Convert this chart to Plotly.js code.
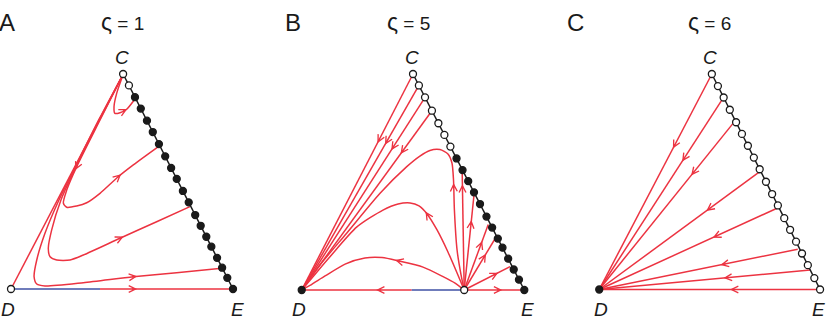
<!DOCTYPE html>
<html><head><meta charset="utf-8">
<script src="https://cdn.plot.ly/plotly-3.0.1.min.js"></script>
<style>html,body{margin:0;padding:0;background:#fff}#plot{width:830px;height:322px}</style>
</head><body><div id="plot"></div>
<script>
// ================= DATA (simplex coords: D=(0,0), E=(1,0), C=(apex,1)) =================
const panelLetters = ['A', 'B', 'C'];
const zetaSymbol = 'ς';
const zetaValues = [1, 5, 6];
const vertexNames  = ['C', 'D', 'E'];
const apexX = [0.505, 0.5, 0.51];

// equilibria on the C–E edge (fraction of the way from C to E) and their stability
const dotsA_t = [0, .053, .108, .161, .217, .270, .326, .383, .437, .488, .544, .597, .656, .706, .757, .803, .855, .901, .948, 1];
const dotsA_open = [1,1,0,0,0,0,0,0,0,0,0,0,0,0,0,0,0,0,0,0];
const dotsB_t = [0, .053, .108, .17, .228, .282, .336, .391, .445, .496, .548, .602, .66, .711, .762, .804, .855, .905, .952, 1];
const dotsB_open = [1,1,1,1,1,1,1,0,0,0,0,0,0,0,0,0,0,0,0,0];
const dotsC_t = [0, .056, .109, .166, .224, .278, .333, .388, .442, .5, .557, .61, .669, .723, .778, .833, .887, .947, 1];
const dotsC_open = [1,1,1,1,1,1,1,1,1,1,1,1,1,1,1,1,1,1,1];

// panel A trajectories (in flow direction)
const A_loop = [[0.506,1],[0.476,0.910],[0.464,0.848],[0.468,0.817],[0.491,0.820],[0.521,0.836],[0.556,0.880]];
const A_t2 = [[0.506,1],[0.401,0.786],[0.296,0.569],[0.251,0.460],[0.236,0.399],[0.251,0.380],[0.296,0.386],[0.341,0.401],[0.401,0.445],[0.483,0.522],[0.551,0.577],[0.664,0.662]];
const A_t3 = [[0.506,1],[0.400,0.789],[0.293,0.569],[0.225,0.414],[0.183,0.274],[0.168,0.189],[0.176,0.150],[0.206,0.135],[0.266,0.135],[0.326,0.158],[0.491,0.236],[0.656,0.313],[0.806,0.383]];
const A_t4 = [[0.506,1],[0.398,0.792],[0.290,0.569],[0.216,0.414],[0.153,0.259],[0.116,0.135],[0.104,0.057],[0.116,0.023],[0.153,0.014],[0.326,0.029],[0.551,0.057],[0.746,0.076],[0.949,0.096]];
const A_edgeCD = [[0.505,1],[0,0]];
const A_base = [[0.401,0],[1,0]];
const A_blue = [[0,0],[0.401,0]];
const A_arrows = [['loop',0.506,0.833],['t2',0.296,0.569],['t2',0.483,0.522],['t3',0.491,0.236],['t4',0.551,0.057],['base',0.55,0]];

// panel B trajectories
const B_O = [0.73, 0];
const B_l0 = [[0.5,1],[0,0]];
const B_l1 = [[0.5265,0.947],[0,0]];
const B_l2 = [[0.554,0.892],[0,0]];
const B_l3 = [[0.585,0.83],[0,0]];
const B_arch1 = [[0.730,0],[0.716,0.069],[0.698,0.185],[0.686,0.370],[0.682,0.509],[0.675,0.588],[0.657,0.630],[0.621,0.650],[0.576,0.646],[0.531,0.620],[0.472,0.571],[0.352,0.448],[0.202,0.263],[0.082,0.116],[0,0]];
const B_arch2 = [[0.730,0],[0.698,0.079],[0.657,0.176],[0.608,0.278],[0.563,0.352],[0.527,0.389],[0.487,0.403],[0.433,0.398],[0.365,0.370],[0.248,0.292],[0.127,0.154],[0.046,0.056],[0,0]];
const B_arch3 = [[0.730,0],[0.689,0.032],[0.635,0.062],[0.545,0.106],[0.437,0.134],[0.361,0.150],[0.284,0.148],[0.195,0.120],[0.105,0.065],[0.037,0.021],[0,0]];
const B_v  = [[0.730,0],[0.721,0.545]];
const B_f1 = [[0.730,0],[0.774,0.44]];
const B_f2 = [[0.730,0],[0.838,0.303]];
const B_f3 = [[0.730,0],[0.876,0.25]];
const B_f4 = [[0.730,0],[0.936,0.108]];
const B_baseL = [[0.494,0],[0,0]];
const B_baseR = [[0.730,0],[1,0]];
const B_blue  = [[0.494,0],[0.730,0]];
const B_arrows = [['l0',0.352,0.694],['l1',0.385,0.687],['l2',0.411,0.663],['l3',0.449,0.648],
  ['arch1',0.680,0.477],['arch2',0.561,0.345],['arch3',0.437,0.134],['v',0.713,0.472],
  ['f1',0.761,0.306],['f2',0.797,0.213],['f3',0.823,0.150],['f4',0.868,0.069],
  ['baseL',0.352,0],['baseR',0.883,0]];

// panel C trajectories
const C_l0 = [[0.51,1],[0,0]];
const C_l1 = [[0.558,0.883],[0,0]];
const C_l2 = [[0.606,0.771],[0,0]];
const C_l3 = [[0.727,0.547],[0,0]];
const C_l4 = [[0.805,0.377],[0,0]];
const C_l5 = [[0.899,0.187],[0,0]];
const C_l6 = [[0.955,0.090],[0,0]];
const C_l7 = [[1,0],[0,0]];
const C_arrows = [['l0',0.340,0.671],['l1',0.385,0.609],['l2',0.423,0.547],['l3',0.498,0.377],
  ['l4',0.528,0.253],['l5',0.565,0.124],['l6',0.580,0.063],['l7',0.610,0]];

// ================= STYLE / GEOMETRY =================
const W = 830, H = 322;
const RED = '#ec3341', BLUE = '#3f51a5', INK = '#1a1a1a';
const FONT = 'Liberation Sans, Arial, sans-serif';
const geom = [
  {x0: 11,    x1: 233,   yb: 289,   yt: 74},
  {x0: 301.7, x1: 524.3, yb: 290,   yt: 74},
  {x0: 599.3, x1: 821.7, yb: 289.5, yt: 74}
];
const PAD = 0.045;
const letterPx = [[6.5,23],[293.3,23],[575.5,23]];
const titlePx  = [[122,21.5],[408.5,21.5],[709.8,21.5]];
const vertexPx = [
  [[121.7,57],[8.3,309],[237.5,309]],
  [[411.7,57],[299,309],[527.5,309]],
  [[710,57],[600.8,309],[818.3,309]]
];

const traces = [];
const annotations = [];
const layout = {
  width: W, height: H, margin: {l:0, r:0, t:0, b:0},
  paper_bgcolor: '#fff', plot_bgcolor: 'rgba(0,0,0,0)',
  showlegend: false, annotations: annotations
};

geom.forEach((g, i) => {
  const s = i === 0 ? '' : String(i + 1);
  const w = g.x1 - g.x0, h = g.yb - g.yt;
  layout['xaxis' + s] = {domain: [(g.x0 - PAD*w)/W, (g.x1 + PAD*w)/W], range: [-PAD, 1 + PAD],
    visible: false, fixedrange: true, anchor: 'y' + s};
  layout['yaxis' + s] = {domain: [1 - (g.yb + PAD*h)/H, 1 - (g.yt - PAD*h)/H], range: [-PAD, 1 + PAD],
    visible: false, fixedrange: true, anchor: 'x' + s};
});

function ax(i) { return i === 0 ? ['x','y'] : ['x' + (i+1), 'y' + (i+1)]; }

function addLine(i, pts, color, width) {
  const [xa, ya] = ax(i);
  traces.push({type:'scatter', mode:'lines', x: pts.map(p => p[0]), y: pts.map(p => p[1]),
    xaxis: xa, yaxis: ya, hoverinfo: 'skip', cliponaxis: false,
    line: {color: color, width: width || 1.5, shape: 'spline', smoothing: 0.7}});
}

function addDots(i, ts, open) {
  const [xa, ya] = ax(i);
  const a = apexX[i];
  const px = ts.map(t => a + (1 - a) * t), py = ts.map(t => 1 - t);
  traces.push({type:'scatter', mode:'lines', x: [a, 1], y: [1, 0], xaxis: xa, yaxis: ya,
    hoverinfo:'skip', line: {color: INK, width: 1.5}});
  traces.push({type:'scatter', mode:'markers', x: px, y: py, xaxis: xa, yaxis: ya,
    hoverinfo:'skip', cliponaxis: false,
    marker: {size: 7, color: open.map(o => o ? '#ffffff' : INK), line: {color: INK, width: 1.3}}});
}

function addPoint(i, x, y, open) {
  const [xa, ya] = ax(i);
  traces.push({type:'scatter', mode:'markers', x: [x], y: [y], xaxis: xa, yaxis: ya,
    hoverinfo:'skip', cliponaxis: false,
    marker: {size: 7, color: open ? '#ffffff' : INK, line: {color: INK, width: 1.3}}});
}

function addArrow(i, pts, x, y) {
  const [xa, ya] = ax(i);
  let best = null;
  for (let k = 0; k < pts.length - 1; k++) {
    const a = pts[k], b = pts[k+1];
    const dx = b[0]-a[0], dy = b[1]-a[1], L2 = dx*dx + dy*dy;
    let t = L2 ? ((x-a[0])*dx + (y-a[1])*dy) / L2 : 0;
    t = Math.max(0, Math.min(1, t));
    const qx = a[0] + t*dx, qy = a[1] + t*dy;
    const d = (qx-x)*(qx-x) + (qy-y)*(qy-y);
    if (!best || d < best.d) { const L = Math.sqrt(L2); best = {d, qx, qy, ux: dx/L, uy: dy/L}; }
  }
  annotations.push({xref: xa, yref: ya, axref: xa, ayref: ya,
    x: best.qx + best.ux*0.018, y: best.qy + best.uy*0.018,
    ax: best.qx - best.ux*0.012, ay: best.qy - best.uy*0.012,
    text: '', showarrow: true, arrowhead: 5, arrowsize: 0.9, arrowwidth: 1.5,
    arrowcolor: RED, standoff: 0});
}

// ---- panel A ----
const trajA = {loop: A_loop, t2: A_t2, t3: A_t3, t4: A_t4, base: A_base};
addLine(0, A_edgeCD, RED);
Object.values(trajA).forEach(p => addLine(0, p, RED));
addLine(0, A_blue, BLUE);
addDots(0, dotsA_t, dotsA_open);
addPoint(0, 0, 0, true);
A_arrows.forEach(a => addArrow(0, trajA[a[0]], a[1], a[2]));

// ---- panel B ----
const trajB = {l0: B_l0, l1: B_l1, l2: B_l2, l3: B_l3, arch1: B_arch1, arch2: B_arch2, arch3: B_arch3,
  v: B_v, f1: B_f1, f2: B_f2, f3: B_f3, f4: B_f4, baseL: B_baseL, baseR: B_baseR};
Object.values(trajB).forEach(p => addLine(1, p, RED));
addLine(1, B_blue, BLUE);
addDots(1, dotsB_t, dotsB_open);
addPoint(1, 0, 0, false);
addPoint(1, B_O[0], B_O[1], true);
B_arrows.forEach(a => addArrow(1, trajB[a[0]], a[1], a[2]));

// ---- panel C ----
const trajC = {l0: C_l0, l1: C_l1, l2: C_l2, l3: C_l3, l4: C_l4, l5: C_l5, l6: C_l6, l7: C_l7};
Object.values(trajC).forEach(p => addLine(2, p, RED));
addDots(2, dotsC_t, dotsC_open);
addPoint(2, 0, 0, false);
C_arrows.forEach(a => addArrow(2, trajC[a[0]], a[1], a[2]));

// ---- texts ----
function paperText(p, text, size) {
  annotations.push({xref:'paper', yref:'paper', x: p[0]/W, y: 1 - p[1]/H, xanchor:'center', yanchor:'middle',
    text: text, showarrow: false, font: {family: FONT, size: size, color: INK}});
}
for (let i = 0; i < 3; i++) {
  paperText(letterPx[i], panelLetters[i], 24);
  paperText(titlePx[i], '<span style="font-size:23px">' + zetaSymbol + '</span> = ' + zetaValues[i], 19);
  vertexNames.forEach((v, k) => paperText(vertexPx[i][k], '<i>' + v + '</i>', 19));
}

Plotly.newPlot('plot', traces, layout, {staticPlot: true, displayModeBar: false});
</script>
</body></html>
